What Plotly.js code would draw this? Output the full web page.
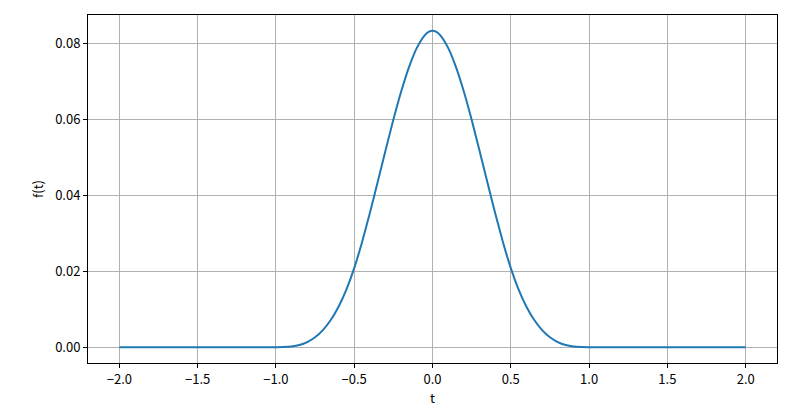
<!DOCTYPE html>
<html>
<head>
<meta charset="utf-8">
<script src="https://cdn.plot.ly/plotly-3.0.1.min.js"></script>
<style>html,body{margin:0;padding:0;background:#fff;}#chart{width:800px;height:409px;}</style>
</head>
<body>
<div id="chart"></div>
<script>
// t values and f(t)
const tValues = [-2.0, -1.5, -1.0, -0.95, -0.9, -0.85, -0.8, -0.75, -0.7, -0.65, -0.6, -0.55, -0.5, -0.45, -0.4, -0.35, -0.3, -0.25, -0.2, -0.15, -0.1, -0.05, -0.025, 0.0,
                 0.025, 0.05, 0.1, 0.15, 0.2, 0.25, 0.3, 0.35, 0.4, 0.45, 0.5, 0.55, 0.6, 0.65, 0.7, 0.75, 0.8, 0.85, 0.9, 0.95, 1.0, 1.5, 2.0];
const fValues = [0, 0, 0, 0.00002, 0.00017, 0.00056, 0.00133, 0.0026, 0.0045, 0.00715, 0.01067, 0.01519, 0.02083, 0.02765, 0.03533, 0.04352, 0.05183, 0.0599, 0.06733, 0.07377, 0.07883, 0.08215, 0.08303, 0.08333,
                 0.08303, 0.08215, 0.07883, 0.07377, 0.06733, 0.0599, 0.05183, 0.04352, 0.03533, 0.02765, 0.02083, 0.01519, 0.01067, 0.00715, 0.0045, 0.0026, 0.00133, 0.00056, 0.00017, 0.00002, 0, 0, 0];
const xTicks = [-2.0, -1.5, -1.0, -0.5, 0.0, 0.5, 1.0, 1.5, 2.0];
const xTickLabels = ["\u22122.0", "\u22121.5", "\u22121.0", "\u22120.5", "0.0", "0.5", "1.0", "1.5", "2.0"];
const yTicks = [0, 0.02, 0.04, 0.06, 0.08];
const yTickLabels = ["0.00", "0.02", "0.04", "0.06", "0.08"];

const font = {family: "'Noto Sans CJK SC', 'DejaVu Sans', sans-serif", size: 13, color: "#000"};
const axisCommon = {
  showline: true, mirror: true, linecolor: "#000", linewidth: 1,
  ticks: "outside", ticklen: 4, tickwidth: 1, tickcolor: "#000",
  showgrid: true, gridcolor: "#b0b0b0", gridwidth: 1,
  zeroline: false, tickfont: font
};
Plotly.newPlot("chart", [{
  x: tValues, y: fValues, type: "scatter", mode: "lines",
  line: {color: "#1f77b4", width: 2, shape: "spline", smoothing: 0.5}
}], {
  width: 800, height: 409,
  margin: {l: 88, r: 23, t: 15, b: 46},
  paper_bgcolor: "#fff", plot_bgcolor: "#fff",
  showlegend: false,
  font: font,
  xaxis: Object.assign({}, axisCommon, {
    range: [-2.2, 2.2], tickmode: "array", tickvals: xTicks, ticktext: xTickLabels,
    title: {text: "t", font: font, standoff: 6}
  }),
  yaxis: Object.assign({}, axisCommon, {
    range: [-0.004167, 0.0875], tickmode: "array", tickvals: yTicks, ticktext: yTickLabels,
    title: {text: "f(t)", font: font, standoff: 8}
  })
}, {displayModeBar: false, staticPlot: true});
</script>
</body>
</html>
